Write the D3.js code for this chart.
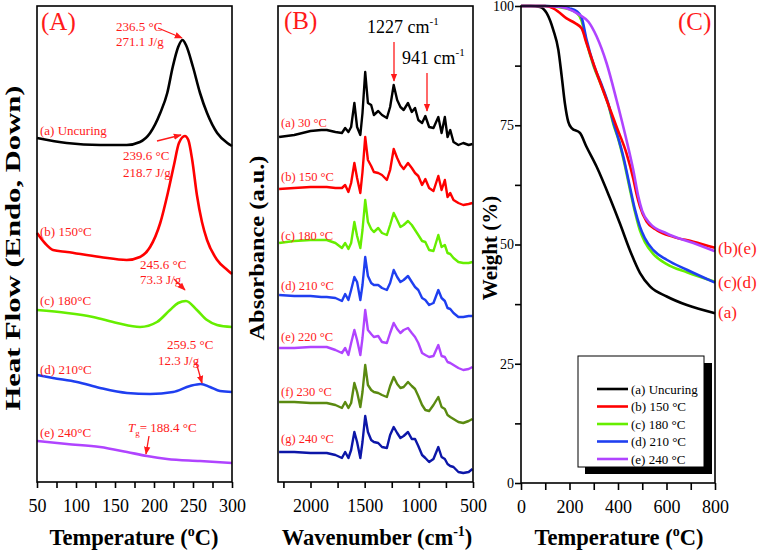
<!DOCTYPE html>
<html><head><meta charset="utf-8">
<script src="https://cdn.jsdelivr.net/npm/d3@7"></script>
<style>body{margin:0;background:#fff}svg{display:block}text{font-family:"Liberation Serif","Times New Roman",serif}</style>
</head><body><svg id="c" width="760" height="551"></svg>
<script>
// ---------- Panel A: DSC (temperature °C, heat flow a.u.) ----------
const dscA_T = [50, 88, 131, 165, 182, 195, 208, 217, 224, 231, 236.5, 241, 250, 259, 268, 281, 294, 300];
const dscA_v = [34.4, 33.9, 33.7, 33.7, 34.0, 34.9, 36.9, 38.9, 41.5, 43.5, 44.2, 43.7, 41.5, 38.9, 36.9, 34.9, 33.9, 33.6];
const dscB_T = [50, 60, 70.5, 88.5, 131, 165, 182, 195, 208, 218, 225.6, 232, 239.6, 244, 249, 255, 261.5, 268, 281, 294, 300];
const dscB_v = [24.9, 23.9, 23.2, 23.0, 22.5, 22.2, 22.5, 23.5, 25.9, 29.0, 31.7, 33.9, 34.6, 34.2, 32.2, 28.7, 26.0, 24.2, 22.2, 21.2, 20.8];
const dscC_T = [50, 88.5, 121.8, 152.6, 182.1, 203.8, 220.5, 231, 241, 255, 268, 280.8, 300];
const dscC_v = [17.2, 16.9, 16.5, 15.9, 15.5, 16.0, 17.2, 17.9, 18.1, 17.2, 16.2, 15.7, 15.5];
const dscD_T = [50, 70.5, 101.3, 130.8, 165.4, 194.9, 224.4, 246.2, 260, 271.8, 284.6, 300];
const dscD_v = [10.7, 10.4, 10.0, 9.4, 8.9, 8.8, 9.0, 9.6, 9.8, 9.5, 9.1, 9.0];
const dscE_T = [50, 88.5, 130.8, 165.4, 191, 216.7, 259, 300];
const dscE_v = [4.1, 3.8, 3.5, 3.0, 2.6, 2.3, 2.1, 1.9];
const dscTicks = [50, 100, 150, 200, 250, 300];
const dscLabels = ["(a) Uncuring", "(b) 150°C", "(c) 180°C", "(d) 210°C", "(e) 240°C"];

// ---------- Panel B: FTIR (wavenumber cm-1, absorbance a.u.) ----------
const ftirWave = [2290, 2150, 2000, 1900, 1850, 1770, 1710, 1680, 1650, 1625, 1595, 1570, 1540, 1520, 1495, 1470, 1440, 1415, 1375, 1340, 1295, 1265, 1232, 1200, 1170, 1140, 1100, 1065, 1035, 1005, 970, 940, 905, 865, 820, 790, 760, 735, 710, 680, 635, 590, 540, 505];
const ftir30  = [34.5,34.7,35.1,35.2,35.2,35.0,34.9,35.4,35.0,35.5,37.9,35.5,34.7,36.9,41.0,37.9,37.7,36.7,37.1,36.7,36.4,37.5,39.7,38.2,37.5,37.2,37.9,37.0,37.4,36.2,35.9,36.6,35.5,35.4,36.5,34.9,36.5,34.5,35.2,34.0,33.7,33.9,33.7,33.8];
const ftir150 = [29.3,29.4,29.5,29.5,29.5,29.4,29.4,29.7,29.0,29.9,31.9,30.4,28.9,31.0,34.5,32.2,31.6,31.0,30.9,30.7,30.2,31.2,33.3,32.4,31.7,31.3,31.9,31.4,30.9,30.6,29.7,30.3,29.4,29.1,30.6,29.2,30.2,28.5,28.9,28.2,27.9,27.7,27.8,27.9];
const ftir180 = [23.9,24.1,24.2,24.2,24.2,23.9,23.4,23.9,23.3,23.9,26.0,24.6,23.4,25.2,28.2,26.0,25.3,25.0,25.4,24.9,24.7,25.7,26.9,26.2,25.5,25.7,26.1,25.7,25.2,24.7,24.1,24.0,23.2,23.1,24.7,23.5,23.7,22.9,22.8,22.4,22.0,21.9,21.9,22.0];
const ftir210 = [18.7,18.6,18.6,18.5,18.5,18.4,18.1,18.8,18.2,19.2,20.5,20.0,18.2,19.7,22.5,20.6,19.9,19.7,19.7,19.4,19.2,19.9,21.2,20.5,20.0,20.2,20.6,20.0,19.5,19.2,18.4,18.2,17.7,17.9,19.2,18.4,18.1,17.4,17.3,16.9,16.5,16.5,16.6,16.6];
const ftir220 = [13.4,13.4,13.5,13.5,13.5,13.2,12.9,13.4,12.7,13.9,15.2,14.2,12.7,14.4,17.2,15.2,14.8,14.5,14.6,14.0,13.9,14.9,15.9,15.3,14.9,15.2,15.4,14.9,14.5,13.9,12.9,12.7,12.5,12.6,13.7,12.6,12.5,12.0,11.9,11.7,11.4,11.2,11.3,11.5];
const ftir230 = [8.0,8.0,7.9,7.9,7.9,7.7,7.4,8.0,7.4,7.9,9.9,9.0,7.5,9.0,11.7,9.7,9.2,9.0,8.9,8.7,8.5,9.6,10.5,9.8,9.4,9.5,10.0,9.6,9.3,8.6,7.7,7.2,7.1,7.7,8.5,7.5,7.3,6.7,6.5,6.3,6.0,5.9,6.1,6.3];
const ftir240 = [3.0,3.0,2.9,2.9,2.9,2.7,2.4,3.0,2.4,3.2,5.0,4.0,2.4,4.0,6.6,5.0,4.2,4.0,3.9,3.5,3.4,4.7,5.5,4.9,4.4,4.6,5.0,4.3,4.3,3.6,2.7,2.4,2.0,2.3,3.5,2.5,2.3,1.8,1.6,1.5,1.0,0.9,1.0,1.3];
const ftirTicks = [2000, 1500, 1000, 500];
const ftirLabels = ["(a) 30 °C", "(b) 150 °C", "(c) 180 °C", "(d) 210 °C", "(e) 220 °C", "(f) 230 °C", "(g) 240 °C"];

// ---------- Panel C: TGA (temperature °C, weight %) ----------
const tgaA_T = [0, 40, 78, 106, 133, 154, 168, 181, 195, 209, 243, 270, 312, 367, 408, 449, 491, 532, 601, 684, 800];
const tgaA_w = [100, 100, 99.8, 98.5, 95.0, 90.8, 85.2, 79.6, 75.7, 74.4, 73.4, 70.5, 66.3, 59.7, 54.4, 48.8, 44.0, 41.2, 39.1, 37.3, 35.6];
const tgaB_T = [0, 100, 133, 154, 188, 223, 250, 270, 312, 353, 394, 435, 463, 477, 491, 518, 560, 628, 711, 800];
const tgaB_w = [100, 100, 99.5, 98.8, 97.4, 96.4, 95.3, 92.2, 86.0, 80.3, 74.7, 69.1, 63.8, 60.5, 57.9, 54.8, 53.0, 51.6, 50.6, 49.3];
const tgaC_T = [0, 100, 150, 200, 230, 250, 270, 300, 330, 360, 381, 400, 422, 449, 470, 490, 510, 546, 601, 684, 800];
const tgaC_w = [100, 100, 99.8, 99.3, 98.6, 96.9, 92.5, 87.3, 83.5, 79.3, 75.2, 72.3, 68.0, 61.6, 56.8, 53.0, 50.6, 48.0, 45.9, 44.2, 42.2];
const tgaD_T = [0, 100, 150, 200, 230, 250, 270, 300, 330, 360, 381, 400, 422, 449, 470, 490, 510, 546, 601, 684, 800];
const tgaD_w = [100, 100, 99.9, 99.5, 98.9, 97.6, 93.0, 87.6, 83.8, 79.5, 75.6, 72.5, 68.4, 62.1, 57.3, 53.8, 51.4, 48.8, 46.8, 44.7, 42.0];
const tgaE_T = [0, 100, 150, 188, 243, 278, 312, 353, 394, 435, 463, 484, 500, 532, 601, 711, 800];
const tgaE_w = [100, 100, 99.9, 99.5, 98.1, 96.7, 93.6, 88.0, 80.3, 71.9, 65.6, 60.0, 57.0, 54.4, 52.3, 50.3, 48.6];
const tgaXTicks = [0, 200, 400, 600, 800];
const tgaYTicks = [0, 25, 50, 75, 100];
const tgaLegend = ["(a) Uncuring", "(b) 150 °C", "(c) 180 °C", "(d) 210 °C", "(e) 240 °C"];
const tgaEndLabels = ["(b)(e)", "(c)(d)", "(a)"];

const colA = ["#000000", "#ff0000", "#66ee00", "#1f3ff0", "#b044ff"];
const colB = ["#000000", "#ff0000", "#66ee00", "#1f3ff0", "#b044ff", "#5a8a10", "#0c16a8"];
const RED = "#ff1a1a";

const svg = d3.select("#c");
svg.append("rect").attr("width", 760).attr("height", 551).attr("fill", "#fff");
const defs = svg.append("defs");
defs.append("marker").attr("id", "arr").attr("viewBox", "0 0 10 10").attr("refX", 9).attr("refY", 5)
  .attr("markerWidth", 8).attr("markerHeight", 8).attr("markerUnits", "userSpaceOnUse").attr("orient", "auto")
  .append("path").attr("d", "M0,1 L10,5 L0,9 Z").attr("fill", RED);

function frame(x, y, w, h) {
  svg.append("rect").attr("x", x).attr("y", y).attr("width", w).attr("height", h)
    .attr("fill", "none").attr("stroke", "#000").attr("stroke-width", 1.6);
}
function styleAxis(g, fs) {
  g.select(".domain").remove();
  g.selectAll(".tick line").attr("stroke", "#000").attr("stroke-width", 1.6);
  g.selectAll(".tick text").attr("fill", "#000").attr("font-size", fs).attr("font-family", "Liberation Serif");
}
function arrow(x1, y1, x2, y2) {
  svg.append("line").attr("x1", x1).attr("y1", y1).attr("x2", x2).attr("y2", y2)
    .attr("stroke", RED).attr("stroke-width", 1.3).attr("marker-end", "url(#arr)");
}
function redText(x, y, s, fs) {
  return svg.append("text").attr("x", x).attr("y", y).attr("fill", RED).attr("font-size", fs).text(s);
}
function tempTitle(cx, y) {
  const t = svg.append("text").attr("x", cx).attr("y", y).attr("text-anchor", "middle")
    .attr("font-size", 22.5).attr("font-weight", "bold");
  t.append("tspan").text("Temperature (");
  t.append("tspan").attr("dy", -9).attr("font-size", 14).text("o");
  t.append("tspan").attr("dy", 9).text("C)");
}
function vTitle(x, cy, s, len) {
  const t = svg.append("text").attr("transform", `translate(${x},${cy}) rotate(-90)`).attr("text-anchor", "middle")
    .attr("font-size", 21).attr("font-weight", "bold").text(s);
  if (len) t.attr("textLength", len).attr("lengthAdjust", "spacingAndGlyphs");
}

// ===== Panel A =====
const xA = d3.scaleLinear().domain([50, 300]).range([37, 232]);
const yA = d3.scaleLinear().domain([0, 47.6]).range([482, 6]);
const lineA = d3.line().x(d => xA(d[0])).y(d => yA(d[1])).curve(d3.curveMonotoneX);
[[dscA_T, dscA_v], [dscB_T, dscB_v], [dscC_T, dscC_v], [dscD_T, dscD_v], [dscE_T, dscE_v]].forEach((s, i) => {
  svg.append("path").datum(d3.zip(s[0], s[1])).attr("d", lineA).attr("fill", "none")
    .attr("stroke", colA[i]).attr("stroke-width", 2.6);
});
const gAx = svg.append("g").attr("transform", "translate(0,482)")
  .call(d3.axisBottom(xA).tickValues(d3.range(50, 301, 25)).tickSize(6).tickPadding(11)
    .tickFormat(d => dscTicks.includes(d) ? d : ""));
styleAxis(gAx, 18);
frame(37, 6, 195, 476);
svg.append("text").attr("x", 41).attr("y", 30).attr("fill", RED).attr("font-size", 25).text("(A)");
const dscLabY = [135, 236, 305, 374, 437];
dscLabels.forEach((s, i) => redText(40, dscLabY[i], s, 13));
redText(116, 31, "236.5 °C", 13); redText(116, 46, "271.1 J/g", 13); arrow(158, 28, 182, 38);
redText(123, 160, "239.6 °C", 13); redText(123, 177, "218.7 J/g", 13); arrow(157, 141, 181, 135);
redText(140, 269, "245.6 °C", 13); redText(140, 284, "73.3 J/g", 13); arrow(174, 279, 185, 290);
redText(167, 349, "259.5 °C", 13); redText(158, 365, "12.3 J/g", 13); arrow(196, 362, 202, 383);
{
  const t = svg.append("text").attr("x", 128).attr("y", 432).attr("fill", RED).attr("font-size", 13);
  t.append("tspan").attr("font-style", "italic").text("T");
  t.append("tspan").attr("dy", 4).attr("font-size", 9).text("g");
  t.append("tspan").attr("dy", -4).text("= 188.4 °C");
}
arrow(149, 436, 146, 454);
vTitle(20, 248, "Heat Flow (Endo, Down)", 325);
tempTitle(134, 545);

// ===== Panel B =====
const xB = d3.scaleLinear().domain([2300, 500]).range([278, 473]);
const yB = d3.scaleLinear().domain([0, 47.6]).range([482, 6]);
const lineB = d3.line().x(d => xB(d[0])).y(d => yB(d[1]));
[ftir30, ftir150, ftir180, ftir210, ftir220, ftir230, ftir240].forEach((vals, i) => {
  svg.append("path").datum(d3.zip(ftirWave, vals)).attr("d", lineB).attr("fill", "none")
    .attr("stroke", colB[i]).attr("stroke-width", 2.4).attr("stroke-linejoin", "round");
});
const gBx = svg.append("g").attr("transform", "translate(0,482)")
  .call(d3.axisBottom(xB).tickValues(d3.range(2250, 499, -250)).tickSize(6).tickPadding(11)
    .tickFormat(d => ftirTicks.includes(d) ? d : ""));
styleAxis(gBx, 18);
frame(278, 6, 195, 476);
svg.append("text").attr("x", 284).attr("y", 29).attr("fill", RED).attr("font-size", 25).text("(B)");
const ftirLabY = [127, 181, 240, 290, 341, 396, 443];
ftirLabels.forEach((s, i) => redText(281, ftirLabY[i], s, 12.5));
function cmLabel(x, y, num) {
  const t = svg.append("text").attr("x", x).attr("y", y).attr("fill", "#000").attr("font-size", 18);
  t.append("tspan").text(num + " cm");
  t.append("tspan").attr("dy", -8).attr("font-size", 11).text("-1");
}
cmLabel(367, 33, "1227"); cmLabel(402, 64, "941");
arrow(394, 42, 394, 81); arrow(427, 73, 427, 111);
vTitle(264, 248, "Absorbance (a.u.)", 185);
{
  const t = svg.append("text").attr("x", 377).attr("y", 545).attr("text-anchor", "middle")
    .attr("font-size", 22.5).attr("font-weight", "bold");
  t.append("tspan").text("Wavenumber (cm");
  t.append("tspan").attr("dy", -9).attr("font-size", 14).text("-1");
  t.append("tspan").attr("dy", 9).text(")");
}

// ===== Panel C =====
const xC = d3.scaleLinear().domain([0, 800]).range([521, 715]);
const yC = d3.scaleLinear().domain([0, 100]).range([483, 6]);
const lineC = d3.line().x(d => xC(d[0])).y(d => yC(d[1])).curve(d3.curveMonotoneX);
const tgaSeries = [[tgaA_T, tgaA_w], [tgaC_T, tgaC_w], [tgaD_T, tgaD_w], [tgaB_T, tgaB_w], [tgaE_T, tgaE_w]];
const tgaCol = [colA[0], colA[2], colA[3], colA[1], colA[4]];
tgaSeries.forEach((s, i) => {
  svg.append("path").datum(d3.zip(s[0], s[1])).attr("d", lineC).attr("fill", "none")
    .attr("stroke", tgaCol[i]).attr("stroke-width", 2.6);
});
const gCx = svg.append("g").attr("transform", "translate(0,483)")
  .call(d3.axisBottom(xC).tickValues(d3.range(0, 801, 100)).tickSize(7).tickPadding(10)
    .tickFormat(d => tgaXTicks.includes(d) ? d : ""));
styleAxis(gCx, 18);
const gCy = svg.append("g").attr("transform", "translate(521,0)")
  .call(d3.axisLeft(yC).tickValues(d3.range(0, 100.1, 12.5)).tickSize(6).tickPadding(1)
    .tickFormat(d => tgaYTicks.includes(d) ? d : ""));
styleAxis(gCy, 14);
frame(521, 6, 194, 477);
svg.append("text").attr("x", 678).attr("y", 30).attr("fill", RED).attr("font-size", 25).text("(C)");
const endY = [254, 288, 318];
tgaEndLabels.forEach((s, i) => redText(718, endY[i], s, 17));
// legend
svg.append("rect").attr("x", 585).attr("y", 363).attr("width", 127).attr("height", 111).attr("fill", "#000");
svg.append("rect").attr("x", 578).attr("y", 356).attr("width", 126).attr("height", 111).attr("fill", "#fff")
  .attr("stroke", "#000").attr("stroke-width", 1);
const legY = [389, 406.5, 424, 441.5, 459];
tgaLegend.forEach((s, i) => {
  svg.append("line").attr("x1", 597).attr("x2", 628).attr("y1", legY[i]).attr("y2", legY[i])
    .attr("stroke", colA[i]).attr("stroke-width", 2.6);
  svg.append("text").attr("x", 631).attr("y", legY[i] + 4.5).attr("font-size", 13).attr("fill", "#000").text(s);
});
vTitle(497, 248, "Weight (%)");
tempTitle(619, 545);
</script></body></html>
